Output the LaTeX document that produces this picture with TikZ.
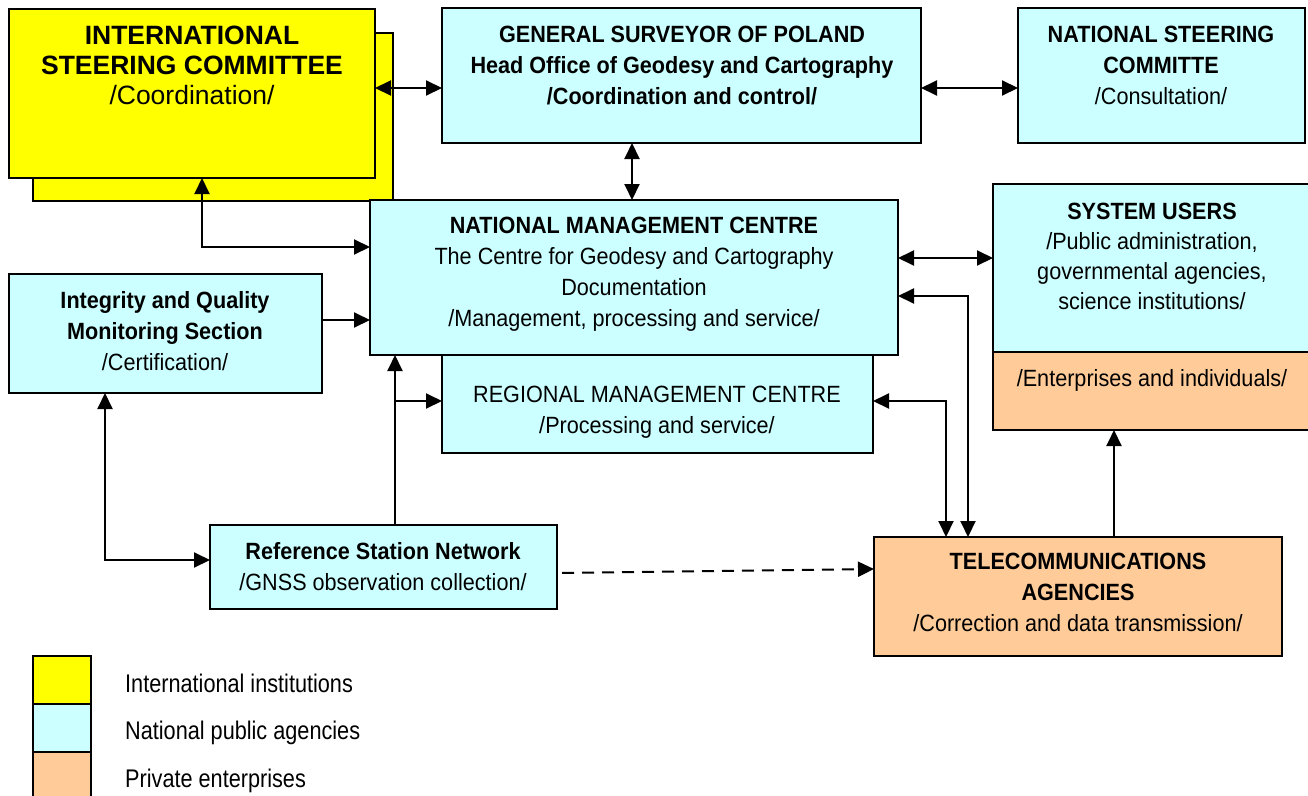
\documentclass[tikz,border=0pt]{standalone}
\usepackage{fontspec}
\setmainfont{Liberation Sans}
\newfontfamily\boxfont[FakeStretch=0.92]{Liberation Sans}
\newfontfamily\legfont[FakeStretch=0.85]{Liberation Sans}
\usetikzlibrary{arrows.meta,positioning}
\definecolor{intyellow}{HTML}{FFFF00}
\definecolor{natcyan}{HTML}{CCFFFF}
\definecolor{privorange}{HTML}{FFCC99}

\begin{document}
\begin{tikzpicture}[x=1pt,y=-1pt,
    box/.style={draw=black,line width=2pt,anchor=north west,inner sep=0pt,outer sep=0pt},
    txt/.style={anchor=north,inner sep=0pt,align=center,font=\boxfont\fontsize{23.5}{31}\selectfont},
    legtxt/.style={anchor=base west,inner sep=0pt,font=\legfont\fontsize{25.5}{30}\selectfont},
    link/.style={line width=2pt,-{Triangle[length=16pt,width=15pt]}},
    both/.style={line width=2pt,{Triangle[length=16pt,width=15pt]}-{Triangle[length=16pt,width=15pt]}}]
    \useasboundingbox (0,0) rectangle (1308,795);
    % Boxes: position of top left corner, then size
    \node[box,fill=intyellow,minimum width=360,minimum height=168] (iscback) at (33,33) {};
    \node[box,fill=intyellow,minimum width=366,minimum height=169] (isc)     at (9,9) {};
    \node[box,fill=natcyan,minimum width=479,minimum height=135]   (gsp)     at (442,8) {};
    \node[box,fill=natcyan,minimum width=287,minimum height=135]   (nsc)     at (1018,8) {};
    \node[box,fill=natcyan,minimum width=431,minimum height=98]    (rmc)     at (442,355) {};
    \node[box,fill=natcyan,minimum width=528,minimum height=155]   (nmc)     at (370,200) {};
    \node[box,fill=natcyan,minimum width=318,minimum height=168]   (su)      at (993,184) {};
    \node[box,fill=privorange,minimum width=318,minimum height=78] (suprv)   at (993,352) {};
    \node[box,fill=natcyan,minimum width=313,minimum height=119]   (iqms)    at (9,274) {};
    \node[box,fill=natcyan,minimum width=347,minimum height=84]    (rsn)     at (210,525) {};
    \node[box,fill=privorange,minimum width=408,minimum height=119] (ta)     at (874,537) {};

    % Texts, hung from the top of each box
    \node[txt,font=\fontsize{26.5}{30}\selectfont] (isc-t) at (192,26)
        {\textbf{INTERNATIONAL}\\\textbf{STEERING COMMITTEE}\\/Coordination/};
    \node[txt] (gsp-t) at (682,26) {\textbf{GENERAL SURVEYOR OF POLAND}\\
        \textbf{Head Office of Geodesy and Cartography}\\\textbf{/Coordination and control/}};
    \node[txt] (nsc-t) at (1161,26) {\textbf{NATIONAL STEERING}\\\textbf{COMMITTE}\\/Consultation/};
    \node[txt] (nmc-t) at (634,217) {\textbf{NATIONAL MANAGEMENT CENTRE}\\
        The Centre for Geodesy and Cartography\\Documentation\\/Management, processing and service/};
    \node[txt,font=\boxfont\fontsize{23.5}{30}\selectfont] (su-t) at (1152,203)
        {\textbf{SYSTEM USERS}\\/Public administration,\\governmental agencies,\\science institutions/};
    \node[txt] (suprv-t) at (1152,369) {/Enterprises and individuals/};
    \node[txt] (iqms-t) at (165,291) {\textbf{Integrity and Quality}\\\textbf{Monitoring Section}\\/Certification/};
    \node[txt] (rmc-t) at (657,386) {REGIONAL MANAGEMENT CENTRE\\/Processing and service/};
    \node[txt] (rsn-t) at (383,542) {\textbf{Reference Station Network}\\/GNSS observation collection/};
    \node[txt] (ta-t) at (1078,553) {\textbf{TELECOMMUNICATIONS}\\\textbf{AGENCIES}\\/Correction and data transmission/};

    % Connectors
    \draw[both] (isc.east |- 0,88) -- (gsp.west |- 0,88);
    \draw[both] (gsp.east |- 0,88) -- (nsc.west |- 0,88);
    \draw[both] (gsp.south -| 632,0) -- (nmc.north -| 632,0);
    \draw[both] (isc.south -| 202,0) |- (nmc.west |- 0,247);
    \draw[both] (nmc.east |- 0,258) -- (su.west |- 0,258);
    \draw[link] (iqms.east |- 0,320) -- (nmc.west |- 0,320);
    \draw[both] (iqms.south -| 105,0) |- (rsn.west |- 0,560);
    \draw[link] (rsn.north -| 395,0) -- (nmc.south -| 395,0);
    \coordinate (split) at (395,401);
    \draw[link] (split) -- (rmc.west |- split);
    \draw[both] (rmc.east |- split) -| (ta.north -| 946,0);
    \draw[both] (nmc.east |- 0,296) -| (ta.north -| 968,0);
    \draw[link] (ta.north -| 1114,0) -- (suprv.south -| 1114,0);
    \draw[link,dash pattern=on 12pt off 8pt,shorten <=5pt] (rsn.east |- 0,573) -- (ta.west |- 0,569);

    % Legend
    \node[box,fill=intyellow,minimum width=58,minimum height=48]  (leg1) at (33,656) {};
    \node[box,fill=natcyan,minimum width=58,minimum height=48]    (leg2) at (33,704) {};
    \node[box,fill=privorange,minimum width=58,minimum height=48] (leg3) at (33,752) {};
    \node[legtxt] (leg1-t) at (125,692) {International institutions};
    \node[legtxt] (leg2-t) at (125,739) {National public agencies};
    \node[legtxt] (leg3-t) at (125,787) {Private enterprises};
\end{tikzpicture}
\end{document}
